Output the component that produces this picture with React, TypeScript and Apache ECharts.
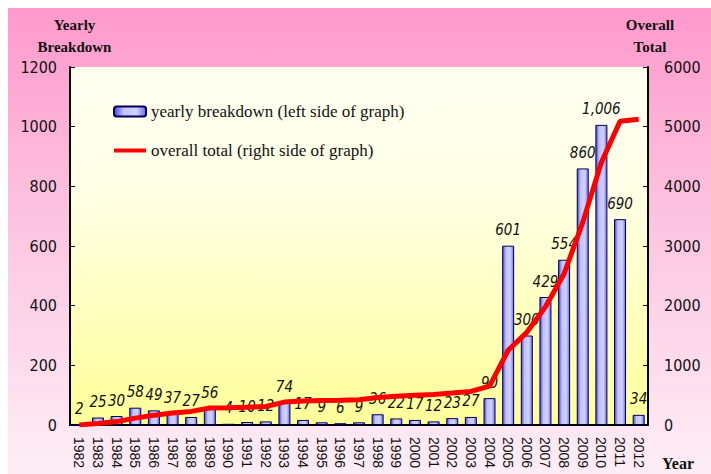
import React, { useEffect, useRef } from "react";
import * as echarts from "echarts";

const years = [
  "1982", "1983", "1984", "1985", "1986", "1987", "1988", "1989", "1990", "1991",
  "1992", "1993", "1994", "1995", "1996", "1997", "1998", "1999", "2000", "2001",
  "2002", "2003", "2004", "2005", "2006", "2007", "2008", "2009", "2010", "2011", "2012",
];
const yearlyBreakdown = [
  2, 25, 30, 58, 49, 37, 27, 56, 4, 10,
  12, 74, 17, 9, 6, 9, 36, 22, 17, 12,
  23, 27, 90, 601, 300, 429, 554, 860, 1006, 690, 34,
];
const overallTotal = [
  2, 27, 57, 115, 164, 201, 228, 284, 288, 298,
  310, 384, 401, 410, 416, 425, 461, 483, 500, 512,
  535, 562, 652, 1253, 1553, 1982, 2536, 3396, 4402, 5092, 5126,
];
const leftTicks = { min: 0, max: 1200, interval: 200 };
const rightTicks = { min: 0, max: 6000, interval: 1000 };

const NARROW = "'Liberation Sans Narrow', 'Arial Narrow', 'DejaVu Sans Condensed', sans-serif";
const SERIF = "'Liberation Serif', 'Times New Roman', serif";

export default function App() {
  const ref = useRef<HTMLDivElement>(null);
  useEffect(() => {
    if (!ref.current) return;
    const chart = echarts.init(ref.current, undefined, { renderer: "svg" });
    const barGrad = {
      type: "linear", x: 0, y: 0, x2: 1, y2: 0,
      colorStops: [
        { offset: 0, color: "#4444DD" },
        { offset: 0.3, color: "#C4C4FF" },
        { offset: 0.7, color: "#D0D0FF" },
        { offset: 1, color: "#6A6AEE" },
      ],
    };
    chart.setOption({
      animation: false,
      backgroundColor: {
        type: "linear", x: 0, y: 0, x2: 0, y2: 1,
        colorStops: [
          { offset: 0, color: "#FF99CC" },
          { offset: 0.45, color: "#FCC4E0" },
          { offset: 1, color: "#FDEEF6" },
        ],
      },
      grid: {
        left: 62, right: 63, top: 59, bottom: 49,
        show: true, borderWidth: 0,
        outerBoundsMode: "none",
        containLabel: false,
        backgroundColor: {
          type: "linear", x: 0, y: 0, x2: 0, y2: 1,
          colorStops: [
            { offset: 0, color: "#FFFFF2" },
            { offset: 0.35, color: "#FFFFE6" },
            { offset: 1, color: "#FFFF99" },
          ],
        },
      },
      legend: {
        orient: "vertical",
        left: 100, top: 90,
        itemWidth: 32, itemHeight: 10, itemGap: 22,
        textStyle: { fontFamily: SERIF, fontSize: 17, color: "#111" },
        data: [
          { name: "yearly breakdown (left side of graph)" },
          {
            name: "overall total (right side of graph)",
            icon: "path://M0,0L0.01,0M0,3L32,3L32,7L0,7ZM31.99,10L32,10",
            itemStyle: { color: "#FF0000", borderWidth: 0 },
          },
        ],
      },
      xAxis: {
        type: "category",
        data: years,
        axisLine: { lineStyle: { color: "#000", width: 2 } },
        axisTick: { inside: true, length: 4, lineStyle: { color: "#000" } },
        axisLabel: {
          rotate: -90, interval: 0, fontSize: 14, margin: 12, color: "#111",
          fontFamily: "'Liberation Sans', Arial, sans-serif",
        },
      },
      yAxis: [
        {
          type: "value", ...leftTicks, position: "left",
          axisLine: { show: true, lineStyle: { color: "#000", width: 2 } },
          axisTick: { show: true, inside: true, length: 5, lineStyle: { color: "#000" } },
          splitLine: { show: false },
          axisLabel: {
            fontSize: 16, margin: 13, color: "#111", fontFamily: NARROW,
            formatter: (v: number) => String(v),
          },
        },
        {
          type: "value", ...rightTicks, position: "right",
          axisLine: { show: true, lineStyle: { color: "#000", width: 2 } },
          axisTick: { show: true, inside: true, length: 5, lineStyle: { color: "#000" } },
          splitLine: { show: false },
          axisLabel: {
            fontSize: 16, margin: 16, color: "#111", fontFamily: NARROW,
            formatter: (v: number) => String(v),
          },
        },
      ],
      series: [
        {
          name: "yearly breakdown (left side of graph)",
          type: "bar",
          data: yearlyBreakdown,
          barWidth: 12,
          itemStyle: { color: barGrad, borderColor: "#000055", borderWidth: 1 },
          label: {
            show: true, position: "top", distance: 8,
            fontStyle: "italic", fontSize: 15, color: "#111", fontFamily: NARROW,
            formatter: (p: any) => Number(p.value).toLocaleString("en-US"),
          },
          z: 2,
        },
        {
          name: "overall total (right side of graph)",
          type: "line",
          yAxisIndex: 1,
          data: overallTotal,
          symbol: "none",
          lineStyle: { color: "#FF0000", width: 5 },
          itemStyle: { color: "#FF0000" },
          z: 3,
        },
      ],
      graphic: [
        {
          type: "text", x: 66.5, y: 6,
          style: {
            text: "Yearly\nBreakdown", textAlign: "center",
            font: `bold 15px ${SERIF}`, lineHeight: 22, fill: "#111",
          } as any,
        },
        {
          type: "text", x: 642, y: 6,
          style: {
            text: "Overall\nTotal", textAlign: "center",
            font: `bold 15px ${SERIF}`, lineHeight: 22, fill: "#111",
          } as any,
        },
        {
          type: "text", x: 654, y: 447,
          style: { text: "Year", font: `bold 16px ${SERIF}`, fill: "#111" },
        },
      ],
    });
    return () => chart.dispose();
  }, []);
  return (
    <div
      ref={ref}
      style={{ position: "fixed", left: 8, top: 8, width: 703, height: 466 }}
    />
  );
}
